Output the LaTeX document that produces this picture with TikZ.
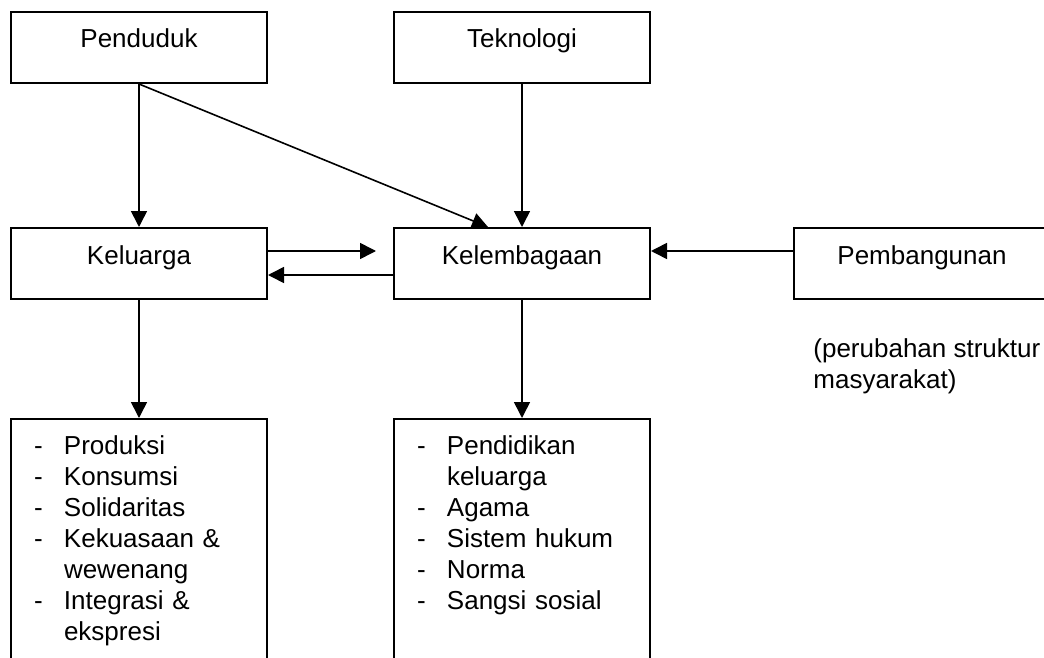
\documentclass[tikz,border=0pt]{standalone}
\usepackage{fontspec}
\setmainfont{Liberation Sans}
\usetikzlibrary{arrows.meta}

\newcommand{\butir}[1]{\makebox[15pt][l]{-}#1}
\newcommand{\lanjut}[1]{\hspace*{15pt}#1}

\tikzset{
  kotak/.style={draw, line width=1pt, anchor=north west, minimum width=128pt,
    inner sep=0pt, text height=18pt, text depth=17.5pt,
    font=\fontsize{13}{15.5}\selectfont},
  daftar/.style={kotak, text width=105pt, inner xsep=11.5pt, align=left,
    text height=17.5pt, text depth=102.5pt},
  panah/.style={-{Triangle[length=8pt,width=8pt]}, line width=0.8pt},
}

\begin{document}
\begin{tikzpicture}[x=0.5pt,y=-0.5pt]
  \clip (0,0) rectangle (1044,658);
  \fill[white] (0,0) rectangle (1044,658);
  % baris atas
  \node[kotak] (penduduk) at (10,11) {Penduduk};
  \node[kotak] (teknologi) at (393,11) {Teknologi};
  % baris tengah
  \node[kotak] (keluarga) at (10,227) {Keluarga};
  \node[kotak] (kelembagaan) at (393,227) {Kelembagaan};
  \node[kotak] (pembangunan) at (793,227) {Pembangunan};
  \node[anchor=north west, align=left, inner sep=0pt,
    font=\fontsize{13}{15.5}\selectfont] (catatan) at (813,338)
    {(perubahan struktur\\masyarakat)};
  % baris bawah
  \node[daftar] (fungsi) at (10,418) {\butir{Produksi}\\ \butir{Konsumsi}\\
    \butir{Solidaritas}\\ \butir{Kekuasaan \&}\\ \lanjut{wewenang}\\
    \butir{Integrasi \&}\\ \lanjut{ekspresi}};
  \node[daftar] (pranata) at (393,418) {\butir{Pendidikan}\\ \lanjut{keluarga}\\
    \butir{Agama}\\ \butir{Sistem hukum}\\ \butir{Norma}\\ \butir{Sangsi sosial}};
  % panah
  \draw[panah] (penduduk.south) -- (keluarga.north);
  \draw[panah] (penduduk.south) -- ([xshift=-17pt]kelembagaan.north);
  \draw[panah] (teknologi.south) -- (kelembagaan.north);
  \draw[panah, shorten >=8.5pt] ([yshift=-12pt]keluarga.north east) -- ([yshift=-12pt]kelembagaan.north west);
  \draw[panah] ([yshift=-24pt]kelembagaan.north west) -- ([yshift=-24pt]keluarga.north east);
  \draw[panah] ([yshift=-12pt]pembangunan.north west) -- ([yshift=-12pt]kelembagaan.north east);
  \draw[panah] (keluarga.south) -- (fungsi.north);
  \draw[panah] (kelembagaan.south) -- (pranata.north);
\end{tikzpicture}
\end{document}
